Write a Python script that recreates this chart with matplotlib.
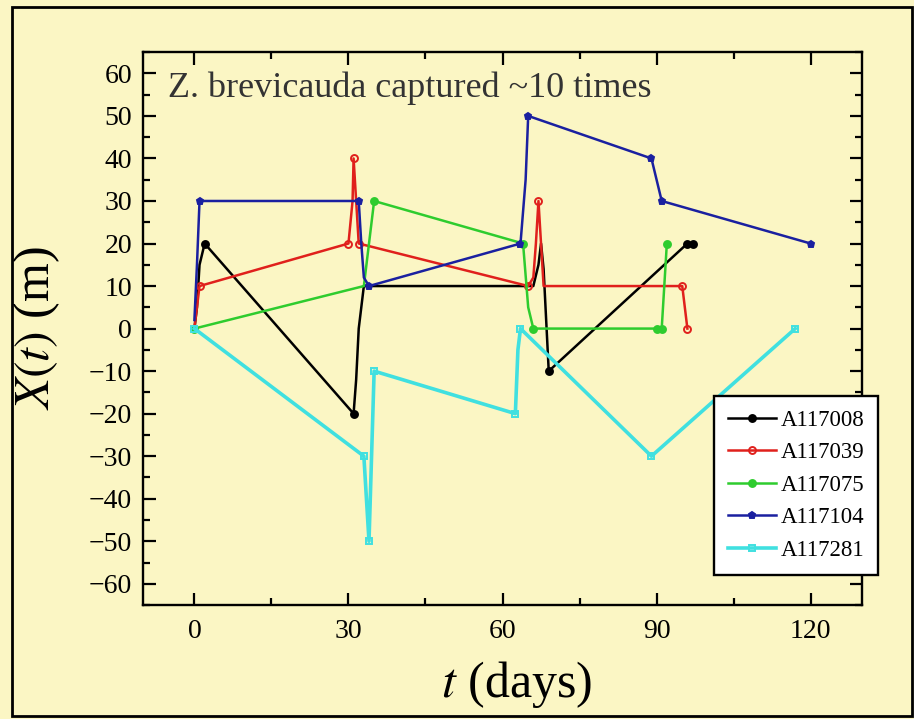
import numpy as np
import matplotlib
matplotlib.use("Agg")
import matplotlib.pyplot as plt
from matplotlib.ticker import MultipleLocator
from matplotlib.patches import Rectangle

#Tracks of recaptured animals: day vs position (m)
names = ["A117008", "A117039", "A117075", "A117104", "A117281"]

t_008 = [0, 0.5, 1, 2, 31, 31.5, 32, 32.5, 33, 66, 67, 67.5, 68, 69, 96, 97]
x_008 = [0, 5, 15, 20, -20, -12, 0, 5, 10, 10, 15, 20, 14, -10, 20, 20]

t_039 = [0, 0.5, 1, 30, 30.8, 31, 31.5, 32, 65, 66, 66.5, 67, 67.5, 68, 95, 95.5, 96]
x_039 = [0, 5, 10, 20, 30, 40, 30, 20, 10, 12, 20, 30, 20, 10, 10, 5, 0]

t_075 = [0, 33, 34, 35, 64, 65, 66, 90, 91, 92]
x_075 = [0, 10, 20, 30, 20, 5, 0, 0, 0, 20]

t_104 = [0, 0.5, 1, 32, 32.5, 33, 34, 63.5, 64.5, 65, 89, 90, 91, 120]
x_104 = [2, 15, 30, 30, 20, 12, 10, 20, 35, 50, 40, 35, 30, 20]

t_281 = [0, 33, 33.5, 34, 35, 62.5, 63, 63.5, 89, 117]
x_281 = [0, -30, -40, -50, -10, -20, -5, 0, -30, 0]

#which points carry a capture marker
mark_008 = [3, 4, 13, 14, 15]
mark_039 = [2, 3, 5, 7, 8, 11, 14, 16]
mark_075 = [0, 3, 4, 6, 7, 8, 9]
mark_104 = [2, 3, 6, 7, 9, 10, 12, 13]
mark_281 = [0, 1, 3, 4, 5, 7, 8, 9]

colors = ["black", "#e0201c", "#2ecc2e", "#1a20a0", "#40e0e0"]
markers = ["o", "o", "o", "p", "s"]

bg = "#fbf6c4"
plt.rcParams["font.family"] = ["Liberation Serif", "DejaVu Serif"]
plt.rcParams["mathtext.fontset"] = "stix"

fig = plt.figure(figsize=(9.14, 7.19), dpi=100, facecolor=bg)
ax = fig.add_axes([0.1565, 0.1585, 0.7866, 0.769], facecolor=bg)

#outer frame round the whole picture
fig.patches.append(Rectangle((12/914, 0.004), 1 - 14/914, 1 - 7/719 - 0.004,
                             transform=fig.transFigure, fill=False,
                             edgecolor="black", linewidth=2))

data = [(t_008, x_008), (t_039, x_039), (t_075, x_075), (t_104, x_104), (t_281, x_281)]
marks = [mark_008, mark_039, mark_075, mark_104, mark_281]
for i in range(0, len(names)):
    t, x = data[i]
    lw = 2.6 if i == 4 else 1.8
    mfc = colors[i] if i in (0, 2, 3) else "none"
    ax.plot(t, x, color=colors[i], linewidth=lw, marker=markers[i], markersize=5,
            markevery=marks[i], markerfacecolor=mfc, markeredgecolor=colors[i],
            markeredgewidth=1.4, label=names[i])

ax.set_xlim(-10, 130)
ax.set_ylim(-65, 65)
ax.xaxis.set_major_locator(MultipleLocator(30))
ax.xaxis.set_minor_locator(MultipleLocator(15))
ax.yaxis.set_major_locator(MultipleLocator(10))
ax.yaxis.set_minor_locator(MultipleLocator(5))
ax.tick_params(which="both", direction="in", top=True, right=True, width=1.6)
ax.tick_params(which="major", length=9, labelsize=20, pad=8)
ax.tick_params(which="minor", length=5)
ax.tick_params(axis="x", which="major", pad=10)
for s in ax.spines.values():
    s.set_linewidth(1.7)

ax.set_xlabel(r"$t$ (days)", fontsize=36)
ax.set_ylabel(r"$X(t)$ (m)", fontsize=36)
ax.xaxis.set_label_coords(0.52, -0.098)
ax.yaxis.set_label_coords(-0.113, 0.5)

ax.text(0.035, 0.965, "Z. brevicauda captured ~10 times", transform=ax.transAxes,
        fontsize=26, color="#333333", va="top", ha="left")

leg = ax.legend(loc="upper left", bbox_to_anchor=(714/914, 1 - 396/719),
                bbox_transform=fig.transFigure, fontsize=16.5, frameon=True,
                fancybox=False, edgecolor="black", facecolor="white",
                handlelength=2.1, handletextpad=0.2, labelspacing=0.5,
                borderpad=0.6, borderaxespad=0, framealpha=1)
leg.get_frame().set_linewidth(1.7)

fig.savefig("out.png", dpi=100, facecolor=bg)
